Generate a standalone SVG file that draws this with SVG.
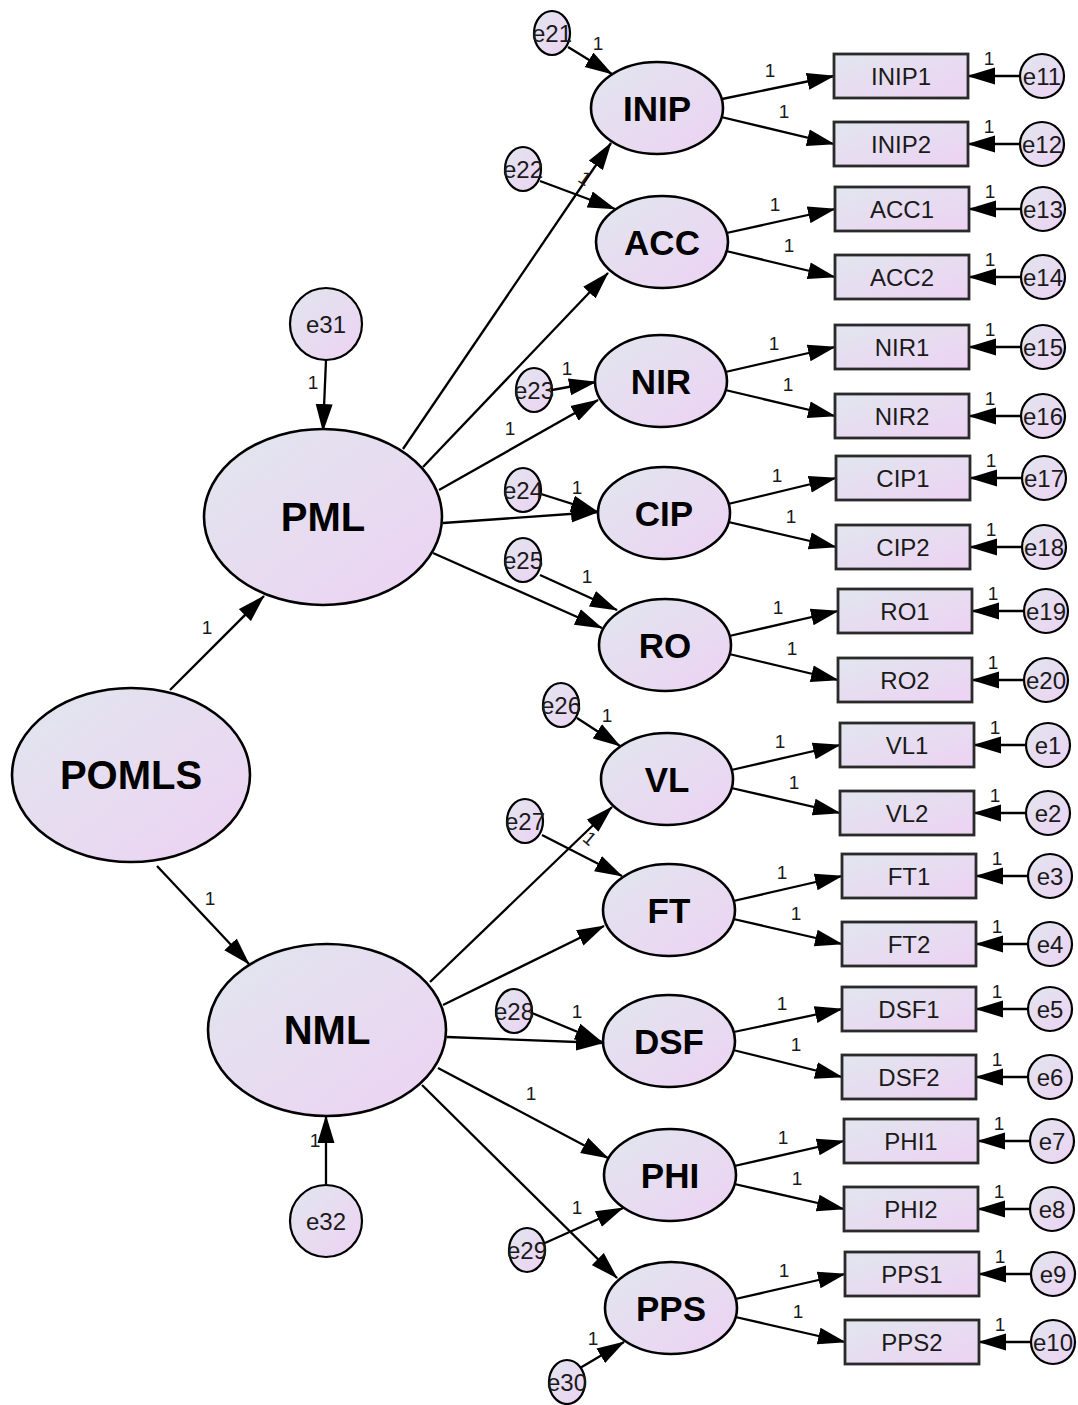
<svg xmlns="http://www.w3.org/2000/svg" width="1078" height="1405" viewBox="0 0 1078 1405">
<defs>
<linearGradient id="g" x1="0" y1="0" x2="1" y2="1">
<stop offset="0" stop-color="#E1E6EE"/>
<stop offset="1" stop-color="#EDD2F3"/>
</linearGradient>
<marker id="ah" markerUnits="userSpaceOnUse" markerWidth="28" markerHeight="18" refX="27" refY="9" orient="auto">
<path d="M0,0.5 L28,9 L0,17.5 z" fill="#000"/>
</marker>
<style>
.lat{fill:url(#g);stroke:#000;stroke-width:2.6}
.obs{fill:url(#g);stroke:#2a2a2a;stroke-width:2.8}
.err{fill:url(#g);stroke:#000;stroke-width:2.2}
.big{font-family:"Liberation Sans",Arial,sans-serif;font-weight:bold;font-size:40px;text-anchor:middle;fill:#000}
.mid{font-family:"Liberation Sans",Arial,sans-serif;font-weight:bold;font-size:35px;text-anchor:middle;fill:#000}
.lbl{font-family:"Liberation Sans",Arial,sans-serif;font-size:24px;text-anchor:middle;fill:#1a1a1a}
.one{font-family:"Liberation Sans",Arial,sans-serif;font-size:19px;text-anchor:middle;fill:#1a1a1a}
.c path{stroke:#000;stroke-width:2.3;fill:none;marker-end:url(#ah)}
</style>
</defs>
<rect width="1078" height="1405" fill="#fff"/>
<g id="connectors" class="c">
<path d="M170,690 L264,596"/>
<path d="M157,866 L249,964"/>
<path d="M326,360 L323,431"/>
<path d="M326,1184 L326,1116"/>
<path d="M403,449 L611,143"/>
<path d="M423,467 L608,273"/>
<path d="M439,490 L598,400"/>
<path d="M443,523 L598,512"/>
<path d="M433,553 L602,628"/>
<path d="M430,982 L612,807"/>
<path d="M443,1005 L604,926"/>
<path d="M447,1037 L603,1043"/>
<path d="M438,1068 L608,1158"/>
<path d="M422,1085 L617,1278"/>
<path d="M568,47 L612,74"/>
<path d="M540,181 L615,209"/>
<path d="M552,390 L596,382"/>
<path d="M541,494 L598,512"/>
<path d="M540,575 L617,610"/>
<path d="M577,718 L620,746"/>
<path d="M542,835 L622,876"/>
<path d="M532,1013 L602,1042"/>
<path d="M545,1243 L623,1208"/>
<path d="M580,1368 L624,1342"/>
<path d="M717,100 L834,76"/><path d="M717,116 L834,144"/>
<path d="M722,234 L835,209"/><path d="M722,250 L835,277"/>
<path d="M721,373 L835,347"/><path d="M721,389 L835,416"/>
<path d="M724,505 L836,478"/><path d="M724,521 L836,547"/>
<path d="M725,637 L838,611"/><path d="M725,653 L838,680"/>
<path d="M727,771 L840,745"/><path d="M727,787 L840,813"/>
<path d="M729,902 L842,876"/><path d="M729,918 L842,944"/>
<path d="M729,1033 L842,1009"/><path d="M729,1049 L842,1077"/>
<path d="M730,1167 L844,1141"/><path d="M730,1183 L844,1209"/>
<path d="M731,1300 L845,1274"/><path d="M731,1316 L845,1342"/>
<path d="M1020,76 L968,76"/><path d="M1020,144 L968,144"/>
<path d="M1021,209 L969,209"/><path d="M1021,277 L969,277"/>
<path d="M1021,347 L969,347"/><path d="M1021,416 L969,416"/>
<path d="M1022,478 L970,478"/><path d="M1022,547 L970,547"/>
<path d="M1024,611 L972,611"/><path d="M1024,680 L972,680"/>
<path d="M1026,745 L974,745"/><path d="M1026,813 L974,813"/>
<path d="M1028,876 L976,876"/><path d="M1028,944 L976,944"/>
<path d="M1028,1009 L976,1009"/><path d="M1028,1077 L976,1077"/>
<path d="M1030,1141 L978,1141"/><path d="M1030,1209 L978,1209"/>
<path d="M1031,1274 L979,1274"/><path d="M1031,1342 L979,1342"/>
</g>
<g id="path-labels">
<text class="one" x="207" y="634">1</text>
<text class="one" x="210" y="905">1</text>
<text class="one" x="313" y="389">1</text>
<text class="one" x="315" y="1147">1</text>
<text class="one" transform="translate(585,178) rotate(34)" y="7">1</text>
<text class="one" x="510" y="435">1</text>
<text class="one" transform="translate(590,838) rotate(40)" y="7">1</text>
<text class="one" x="531" y="1100">1</text>
<text class="one" x="598" y="50">1</text>
<text class="one" x="567" y="375">1</text>
<text class="one" x="577" y="494">1</text>
<text class="one" x="587" y="583">1</text>
<text class="one" x="607" y="722">1</text>
<text class="one" x="577" y="1018">1</text>
<text class="one" x="577" y="1214">1</text>
<text class="one" x="593" y="1345">1</text>
<text class="one" x="770" y="77">1</text><text class="one" x="784" y="118">1</text>
<text class="one" x="775" y="211">1</text><text class="one" x="789" y="252">1</text>
<text class="one" x="774" y="350">1</text><text class="one" x="788" y="391">1</text>
<text class="one" x="777" y="482">1</text><text class="one" x="791" y="523">1</text>
<text class="one" x="778" y="614">1</text><text class="one" x="792" y="655">1</text>
<text class="one" x="780" y="748">1</text><text class="one" x="794" y="789">1</text>
<text class="one" x="782" y="879">1</text><text class="one" x="796" y="920">1</text>
<text class="one" x="782" y="1010">1</text><text class="one" x="796" y="1051">1</text>
<text class="one" x="783" y="1144">1</text><text class="one" x="797" y="1185">1</text>
<text class="one" x="784" y="1277">1</text><text class="one" x="798" y="1318">1</text>
<text class="one" x="989" y="65">1</text><text class="one" x="989" y="133">1</text>
<text class="one" x="990" y="198">1</text><text class="one" x="990" y="266">1</text>
<text class="one" x="990" y="336">1</text><text class="one" x="990" y="405">1</text>
<text class="one" x="991" y="467">1</text><text class="one" x="991" y="536">1</text>
<text class="one" x="993" y="600">1</text><text class="one" x="993" y="669">1</text>
<text class="one" x="995" y="734">1</text><text class="one" x="995" y="802">1</text>
<text class="one" x="997" y="865">1</text><text class="one" x="997" y="933">1</text>
<text class="one" x="997" y="998">1</text><text class="one" x="997" y="1066">1</text>
<text class="one" x="999" y="1130">1</text><text class="one" x="999" y="1198">1</text>
<text class="one" x="1000" y="1263">1</text><text class="one" x="1000" y="1331">1</text>
</g>
<g id="POMLS"><ellipse class="lat" cx="131" cy="775" rx="119" ry="87"/><text class="big" x="131" y="789">POMLS</text></g>
<g id="PML"><ellipse class="lat" cx="323" cy="517" rx="119" ry="88"/><text class="big" x="323" y="531">PML</text></g>
<g id="NML"><ellipse class="lat" cx="327" cy="1030" rx="119" ry="86"/><text class="big" x="327" y="1044">NML</text></g>
<g id="e31"><circle class="err" cx="326" cy="324" r="36"/><text class="lbl" x="326" y="333">e31</text></g>
<g id="e32"><circle class="err" cx="326" cy="1221" r="36"/><text class="lbl" x="326" y="1230">e32</text></g>
<g id="INIP"><ellipse class="lat" cx="657" cy="108" rx="66" ry="46"/><text class="mid" x="657" y="121">INIP</text></g>
<g id="ACC"><ellipse class="lat" cx="662" cy="242" rx="66" ry="46"/><text class="mid" x="662" y="255">ACC</text></g>
<g id="NIR"><ellipse class="lat" cx="661" cy="381" rx="66" ry="46"/><text class="mid" x="661" y="394">NIR</text></g>
<g id="CIP"><ellipse class="lat" cx="664" cy="513" rx="66" ry="46"/><text class="mid" x="664" y="526">CIP</text></g>
<g id="RO"><ellipse class="lat" cx="665" cy="645" rx="66" ry="46"/><text class="mid" x="665" y="658">RO</text></g>
<g id="VL"><ellipse class="lat" cx="667" cy="779" rx="66" ry="46"/><text class="mid" x="667" y="792">VL</text></g>
<g id="FT"><ellipse class="lat" cx="669" cy="910" rx="66" ry="46"/><text class="mid" x="669" y="923">FT</text></g>
<g id="DSF"><ellipse class="lat" cx="669" cy="1041" rx="66" ry="46"/><text class="mid" x="669" y="1054">DSF</text></g>
<g id="PHI"><ellipse class="lat" cx="670" cy="1175" rx="66" ry="46"/><text class="mid" x="670" y="1188">PHI</text></g>
<g id="PPS"><ellipse class="lat" cx="671" cy="1308" rx="66" ry="46"/><text class="mid" x="671" y="1321">PPS</text></g>
<g id="e21"><ellipse class="err" cx="552" cy="33" rx="18" ry="22"/><text class="lbl" x="552" y="42">e21</text></g>
<g id="e22"><ellipse class="err" cx="523" cy="169" rx="18" ry="22"/><text class="lbl" x="523" y="178">e22</text></g>
<g id="e23"><ellipse class="err" cx="534" cy="390" rx="18" ry="22"/><text class="lbl" x="534" y="399">e23</text></g>
<g id="e24"><ellipse class="err" cx="523" cy="490" rx="18" ry="22"/><text class="lbl" x="523" y="499">e24</text></g>
<g id="e25"><ellipse class="err" cx="523" cy="560" rx="18" ry="22"/><text class="lbl" x="523" y="569">e25</text></g>
<g id="e26"><ellipse class="err" cx="561" cy="705" rx="18" ry="22"/><text class="lbl" x="561" y="714">e26</text></g>
<g id="e27"><ellipse class="err" cx="525" cy="821" rx="18" ry="22"/><text class="lbl" x="525" y="830">e27</text></g>
<g id="e28"><ellipse class="err" cx="514" cy="1011" rx="18" ry="22"/><text class="lbl" x="514" y="1020">e28</text></g>
<g id="e29"><ellipse class="err" cx="527" cy="1250" rx="18" ry="22"/><text class="lbl" x="527" y="1259">e29</text></g>
<g id="e30"><ellipse class="err" cx="567" cy="1382" rx="18" ry="22"/><text class="lbl" x="567" y="1391">e30</text></g>
<g id="INIP1"><rect class="obs" x="834" y="54" width="134" height="44"/><text class="lbl" x="901" y="85">INIP1</text></g>
<g id="INIP2"><rect class="obs" x="834" y="122" width="134" height="44"/><text class="lbl" x="901" y="153">INIP2</text></g>
<g id="ACC1"><rect class="obs" x="835" y="187" width="134" height="44"/><text class="lbl" x="902" y="218">ACC1</text></g>
<g id="ACC2"><rect class="obs" x="835" y="255" width="134" height="44"/><text class="lbl" x="902" y="286">ACC2</text></g>
<g id="NIR1"><rect class="obs" x="835" y="325" width="134" height="44"/><text class="lbl" x="902" y="356">NIR1</text></g>
<g id="NIR2"><rect class="obs" x="835" y="394" width="134" height="44"/><text class="lbl" x="902" y="425">NIR2</text></g>
<g id="CIP1"><rect class="obs" x="836" y="456" width="134" height="44"/><text class="lbl" x="903" y="487">CIP1</text></g>
<g id="CIP2"><rect class="obs" x="836" y="525" width="134" height="44"/><text class="lbl" x="903" y="556">CIP2</text></g>
<g id="RO1"><rect class="obs" x="838" y="589" width="134" height="44"/><text class="lbl" x="905" y="620">RO1</text></g>
<g id="RO2"><rect class="obs" x="838" y="658" width="134" height="44"/><text class="lbl" x="905" y="689">RO2</text></g>
<g id="VL1"><rect class="obs" x="840" y="723" width="134" height="44"/><text class="lbl" x="907" y="754">VL1</text></g>
<g id="VL2"><rect class="obs" x="840" y="791" width="134" height="44"/><text class="lbl" x="907" y="822">VL2</text></g>
<g id="FT1"><rect class="obs" x="842" y="854" width="134" height="44"/><text class="lbl" x="909" y="885">FT1</text></g>
<g id="FT2"><rect class="obs" x="842" y="922" width="134" height="44"/><text class="lbl" x="909" y="953">FT2</text></g>
<g id="DSF1"><rect class="obs" x="842" y="987" width="134" height="44"/><text class="lbl" x="909" y="1018">DSF1</text></g>
<g id="DSF2"><rect class="obs" x="842" y="1055" width="134" height="44"/><text class="lbl" x="909" y="1086">DSF2</text></g>
<g id="PHI1"><rect class="obs" x="844" y="1119" width="134" height="44"/><text class="lbl" x="911" y="1150">PHI1</text></g>
<g id="PHI2"><rect class="obs" x="844" y="1187" width="134" height="44"/><text class="lbl" x="911" y="1218">PHI2</text></g>
<g id="PPS1"><rect class="obs" x="845" y="1252" width="134" height="44"/><text class="lbl" x="912" y="1283">PPS1</text></g>
<g id="PPS2"><rect class="obs" x="845" y="1320" width="134" height="44"/><text class="lbl" x="912" y="1351">PPS2</text></g>
<g id="e11"><circle class="err" cx="1042" cy="76" r="22"/><text class="lbl" x="1042" y="85">e11</text></g>
<g id="e12"><circle class="err" cx="1042" cy="144" r="22"/><text class="lbl" x="1042" y="153">e12</text></g>
<g id="e13"><circle class="err" cx="1043" cy="209" r="22"/><text class="lbl" x="1043" y="218">e13</text></g>
<g id="e14"><circle class="err" cx="1043" cy="277" r="22"/><text class="lbl" x="1043" y="286">e14</text></g>
<g id="e15"><circle class="err" cx="1043" cy="347" r="22"/><text class="lbl" x="1043" y="356">e15</text></g>
<g id="e16"><circle class="err" cx="1043" cy="416" r="22"/><text class="lbl" x="1043" y="425">e16</text></g>
<g id="e17"><circle class="err" cx="1044" cy="478" r="22"/><text class="lbl" x="1044" y="487">e17</text></g>
<g id="e18"><circle class="err" cx="1044" cy="547" r="22"/><text class="lbl" x="1044" y="556">e18</text></g>
<g id="e19"><circle class="err" cx="1046" cy="611" r="22"/><text class="lbl" x="1046" y="620">e19</text></g>
<g id="e20"><circle class="err" cx="1046" cy="680" r="22"/><text class="lbl" x="1046" y="689">e20</text></g>
<g id="e1"><circle class="err" cx="1048" cy="745" r="22"/><text class="lbl" x="1048" y="754">e1</text></g>
<g id="e2"><circle class="err" cx="1048" cy="813" r="22"/><text class="lbl" x="1048" y="822">e2</text></g>
<g id="e3"><circle class="err" cx="1050" cy="876" r="22"/><text class="lbl" x="1050" y="885">e3</text></g>
<g id="e4"><circle class="err" cx="1050" cy="944" r="22"/><text class="lbl" x="1050" y="953">e4</text></g>
<g id="e5"><circle class="err" cx="1050" cy="1009" r="22"/><text class="lbl" x="1050" y="1018">e5</text></g>
<g id="e6"><circle class="err" cx="1050" cy="1077" r="22"/><text class="lbl" x="1050" y="1086">e6</text></g>
<g id="e7"><circle class="err" cx="1052" cy="1141" r="22"/><text class="lbl" x="1052" y="1150">e7</text></g>
<g id="e8"><circle class="err" cx="1052" cy="1209" r="22"/><text class="lbl" x="1052" y="1218">e8</text></g>
<g id="e9"><circle class="err" cx="1053" cy="1274" r="22"/><text class="lbl" x="1053" y="1283">e9</text></g>
<g id="e10"><circle class="err" cx="1053" cy="1342" r="22"/><text class="lbl" x="1053" y="1351">e10</text></g>
</svg>
